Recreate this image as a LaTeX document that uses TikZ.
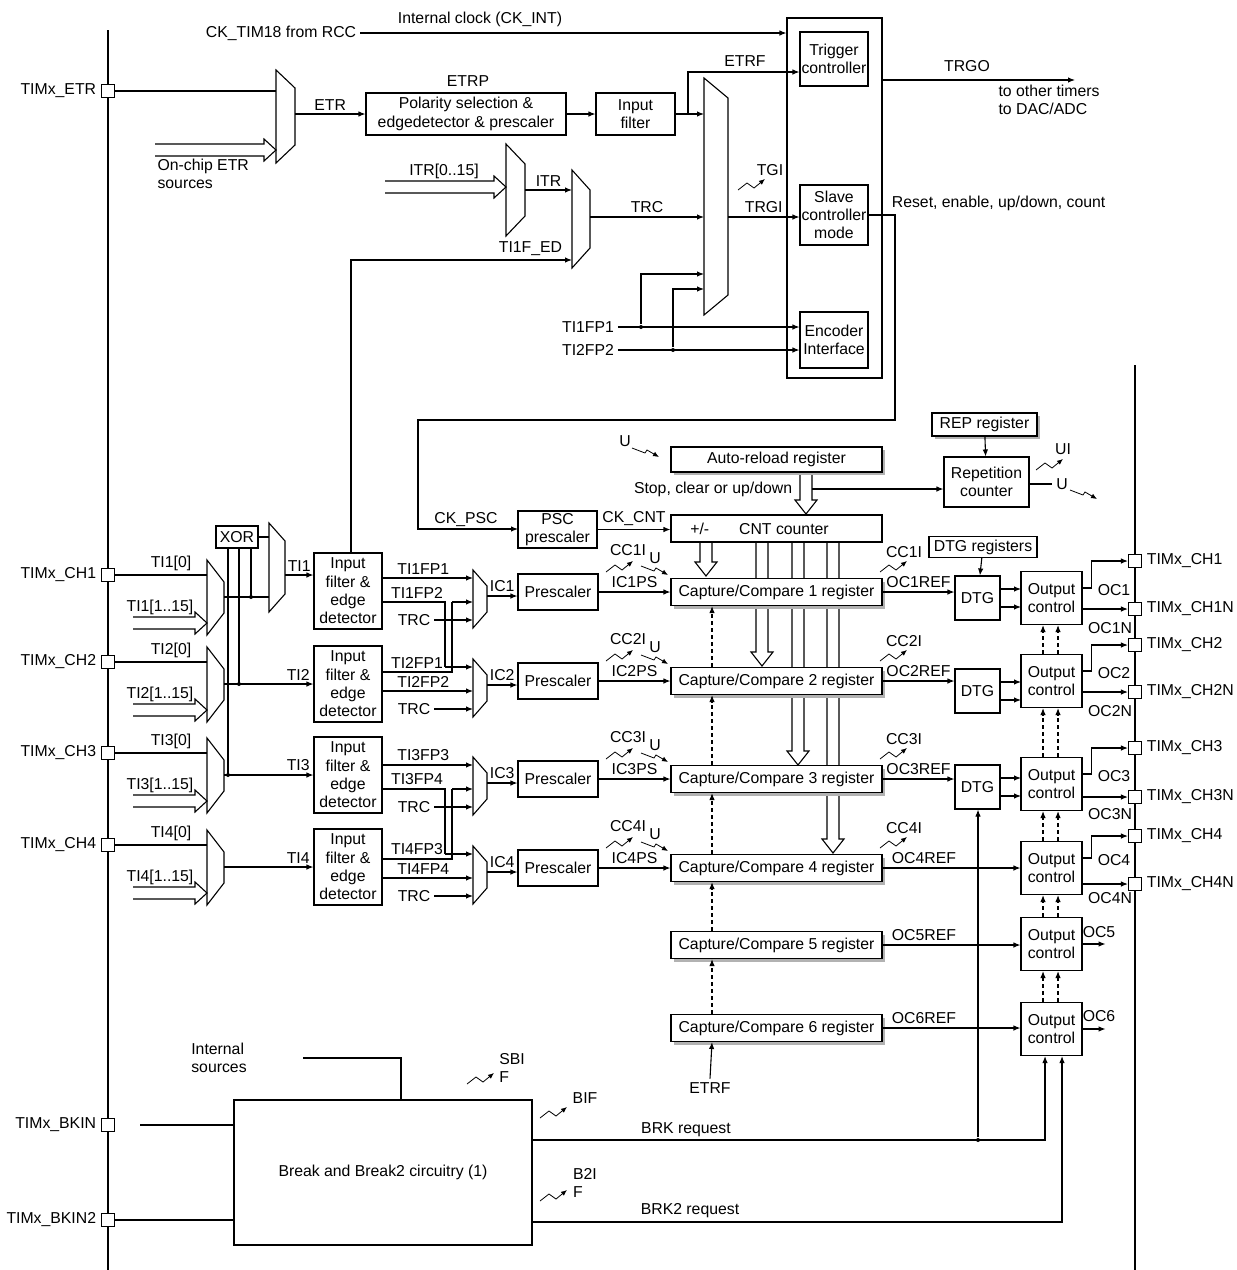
\documentclass[tikz,border=0pt]{standalone}
\usepackage{fontspec}
\setmainfont{Liberation Sans}
\usetikzlibrary{positioning,arrows.meta,shadows}

\tikzset{
  box/.style={draw,fill=white,align=center,inner sep=1pt,line width=1.1pt},
  sbox/.style={box,drop shadow={shadow xshift=3pt,shadow yshift=-3pt,fill=black!30,opacity=1}},
  pin/.style={draw,fill=white,minimum size=13pt,inner sep=0pt,line width=1.1pt},
  arr/.style={-{Latex[length=7pt,width=5.5pt]}},
  dsh/.style={dash pattern=on 4pt off 3pt},
  zig/.style={-{Latex[length=6pt,width=5pt]},line width=0.8pt},
  dot/.style={circle,fill,inner sep=0pt,minimum size=4pt},
}
\newcommand\muxs[5]{\draw[line width=1.1pt,fill=white] (#1,#2) -- (#1+#4,#2+#5) -- (#1+#4,#3-#5) -- (#1,#3) -- cycle;}
\newcommand\hollowdown[3]{\draw[fill=white,line width=1.1pt] (#1-6,#2) -- (#1-6,#3-14) -- (#1-11,#3-14) -- (#1,#3) -- (#1+11,#3-14) -- (#1+6,#3-14) -- (#1+6,#2);}
\newcommand\hollowright[3]{\draw[fill=white,line width=1.1pt] (#2,#1-6) -- (#3-12,#1-6) -- (#3-12,#1-11) -- (#3,#1) -- (#3-12,#1+11) -- (#3-12,#1+6) -- (#2,#1+6);}
\newcommand\zigup[2]{\draw[zig] (#1,#2) -- ++(9,-7) -- ++(7,5) -- ++(11,-9);}
\newcommand\zigdn[2]{\draw[zig] (#1,#2) -- ++(13,5) -- ++(2,-3) -- ++(12,7);}

\begin{document}
\begin{tikzpicture}[x=1pt,y=-1pt,line width=1.1pt,font=\fontsize{15.8}{18.3}\selectfont]
\useasboundingbox (0,0) rectangle (1237,1270);

% buses and pins
\draw (108,30) -- (108,1270);
\draw (1135,365) -- (1135,1270);
\foreach \n/\y/\t in {etr/91/TIMx\_ETR,ch1/575/TIMx\_CH1,ch2/662/TIMx\_CH2,ch3/753/TIMx\_CH3,
    ch4/845/TIMx\_CH4,bkin/1125/TIMx\_BKIN,bkintwo/1220/TIMx\_BKIN2}
  {\node[pin] (p\n) at (108,\y) {}; \node[left=1pt of p\n] (l\n) {\t};}
\foreach \n/\y/\t in {oa/561/TIMx\_CH1,oan/609/TIMx\_CH1N,ob/645/TIMx\_CH2,obn/692/TIMx\_CH2N,
    oc/748/TIMx\_CH3,ocn/797/TIMx\_CH3N,od/836/TIMx\_CH4,odn/884/TIMx\_CH4N}
  {\node[pin] (p\n) at (1135,\y) {}; \node[right=1pt of p\n] (l\n) {\t};}

% slave mode controller
\node[box,minimum width=95,minimum height=360] (ctl) at (834.5,198) {};
\node[box,minimum width=68,minimum height=54] (trig) at (834,59) {Trigger\\controller};
\node[box,minimum width=68,minimum height=60] (slave) at (834,215) {Slave\\controller\\mode};
\node[box,minimum width=68,minimum height=56] (enc) at (834,340) {Encoder\\Interface};
\node[anchor=east] (ckrcc) at (360,33) {CK\_TIM18 from RCC};
\draw[arr] (ckrcc.east) -- (ctl.west |- ckrcc.east);
\node (ckint) at (480,19) {Internal clock (CK\_INT)};
\draw[arr] (ctl.east |- 0,80) -- (1075,80);
\node (trgo) at (967,66) {TRGO};
\node[anchor=north west,align=left,inner sep=0pt] (toth) at (998,84) {to other timers\\to DAC/ADC};

% ETR path
\muxs{276}{70}{163}{19}{18}
\draw (petr.east) -- (276,91);
\hollowright{150}{155}{276}
\node[anchor=north west,align=left,inner sep=0pt] (onchip) at (157,158) {On-chip ETR\\sources};
\node[box,minimum width=200,minimum height=42] (pol) at (466,114) {Polarity selection \&\\edgedetector \& prescaler};
\draw[arr] (295,114) -- (pol.west) node[midway,above] (etrl) {ETR};
\node (etrp) at (468,81) {ETRP};
\node[box,minimum width=79,minimum height=42] (infl) at (635.5,114) {Input\\filter};
\draw[arr] (pol) -- (infl);
\muxs{704}{78}{315}{24}{20}
\draw[arr] (infl.east) -- (704,114);
\draw[arr] (688,114) |- (trig.west |- 0,72);
\node (etrf) at (745,61) {ETRF};

% trigger selection
\muxs{506}{144}{236}{19}{20}
\hollowright{187}{385}{506}
\node (itrin) at (444,171) {ITR[0..15]};
\draw[arr] (525,190) -- (572,190) node[midway,above] (itrl) {ITR};
\muxs{572}{170}{268}{18}{20}
\draw[arr] (590,217) -- (704,217) node[midway,above] (trcl) {TRC};
\draw[arr] (728,217) -- (slave.west |- 0,217) node[midway,above] (trgil) {TRGI};
\zigup{738}{190}
\node (tgi) at (770,170) {TGI};
\node (tfa) at (588,327) {TI1FP1};
\node (tfb) at (588,350) {TI2FP2};
\draw[arr] (tfa.east) -- (enc.west |- tfa.east);
\draw[arr] (tfb.east) -- (enc.west |- tfb.east);
\node[dot] (da) at (641,327) {};
\node[dot] (db) at (673,350) {};
\draw[arr] (da) |- (704,274);
\draw[arr] (db) |- (704,289);
\draw[arr] (slave.east |- 0,215) -- (895,215) -- (895,420) -- (418,420) -- (418,529) -- (518,529);
\node[anchor=west] (rst) at (888,203) {Reset, enable, up/down, count};
\node (ckpsc) at (466,520) {CK\_PSC};

% counter
\hollowdown{706}{542}{576}
\hollowdown{762}{542}{666}
\hollowdown{798}{542}{765}
\hollowdown{833}{542}{853}
\hollowdown{806}{472}{514}
\node[sbox,minimum width=211,minimum height=25] (autorel) at (776.5,459.5) {Auto-reload register};
\node (ul) at (625,441) {U};
\zigdn{632}{448}
\node[anchor=east] (stop) at (796,489) {Stop, clear or up/down};
\node[box,minimum width=85,minimum height=50] (rep) at (986.5,482) {Repetition\\counter};
\node[sbox,minimum width=105,minimum height=23] (repreg) at (984.5,424.5) {REP register};
\draw[arr] (812,489) -- (rep.west |- 0,489);
\draw[arr] (repreg) -- (rep);
\zigup{1036}{470}
\node (uil) at (1063,449) {UI};
\draw (rep.east |- 0,484) -- (1052,484);
\node (url) at (1062,484) {U};
\zigdn{1070}{490}
\node[box,minimum width=79,minimum height=37] (psc) at (557.5,529.5) {PSC\\prescaler};
\node[box,minimum width=211,minimum height=27] (cnt) at (776.5,528.5) {\hspace{2pt}+/-\hspace{30pt}CNT counter\hspace{36pt}};
\draw[arr] (psc.east) -- (cnt.west |- psc.east) node[midway,above] (ckcnt) {CK\_CNT};
\node[box,minimum width=108,minimum height=21] (dtgreg) at (983,547) {DTG registers};

% channels
\foreach \i/\c/\f in {1/592/591,2/681/684,3/779/775,4/868/867} {
  \node[box,minimum width=68,minimum height=76] (filt\i) at (348,\f) {Input\\filter \&\\edge\\detector};
  \muxs{473}{\c-22}{\c+36}{14}{16}
  \node[box,minimum width=80,minimum height=36] (psc\i) at (558,\c) {Prescaler};
  \node[sbox,minimum width=211,minimum height=27] (cc\i) at (776.5,\c) {Capture/Compare \i\ register};
  \draw[arr] (487,\c+4) -- (psc\i.west |- 0,\c+4) node[midway,above] (icl\i) {IC\i};
  \draw[arr] (psc\i) -- (cc\i) node[midway,above] (icps\i) {IC\i PS};
  \node (trc\i) at (414,\c+28) {TRC};
  \draw[arr] (trc\i.east) -- (473,\c+28);
  \node (cci\i) at (628,\c-42) {CC\i I};
  \zigup{606}{\c-20}
  \node (ui\i) at (655,\c-34) {U};
  \zigdn{641}{\c-26}
  \node (cco\i) at (904,\c-40) {CC\i I};
  \zigup{880}{\c-20}
}
\foreach \i/\c in {5/945,6/1028}
  \node[sbox,minimum width=211,minimum height=27] (cc\i) at (776.5,\c) {Capture/Compare \i\ register};
\foreach \a/\b in {2/1,3/2,4/3,5/4,6/5}
  \draw[arr,dsh] (cc\a.north -| 712,0) -- (cc\b.south -| 712,0);
\node (etrfb) at (710,1088) {ETRF};
\draw[arr] (etrfb.north) -- (cc6.south -| 712,0);

% filter outputs
\draw[arr] (filt1.east |- 0,578) -- (473,578) node[pos=0.45,above] (fa) {TI1FP1};
\draw (filt1.east |- 0,602) -- (445,602) -- (445,667);
\draw[arr] (445,667) -- (473,667);
\node[above] (fb) at (417,602) {TI1FP2};
\draw (filt2.east |- 0,672) -- (452,672) -- (452,602);
\draw[arr] (452,602) -- (473,602);
\node[above] (fc) at (417,672) {TI2FP1};
\draw[arr] (filt2.east |- 0,691) -- (473,691) node[pos=0.45,above] (fd) {TI2FP2};
\draw[arr] (filt3.east |- 0,765) -- (473,765) node[pos=0.45,above] (fe) {TI3FP3};
\draw (filt3.east |- 0,789) -- (445,789) -- (445,854);
\draw[arr] (445,854) -- (473,854);
\node[above] (ff) at (417,789) {TI3FP4};
\draw (filt4.east |- 0,859) -- (452,859) -- (452,789);
\draw[arr] (452,789) -- (473,789);
\node[above] (fg) at (417,859) {TI4FP3};
\draw[arr] (filt4.east |- 0,878) -- (473,878) node[pos=0.45,above] (fh) {TI4FP4};

% input selection
\node[box,minimum width=42,minimum height=22] (xor) at (237,537) {XOR};
\muxs{269}{523}{612}{16}{18}
\draw (xor.east) -- (269,537);
\foreach \i/\t in {1/560,2/647,3/738,4/830} {
  \muxs{207}{\t}{\t+75}{17}{22}
  \draw (pch\i.east) -- (207,\t+15);
  \node[above] (tz\i) at (171,\t+15) {TI\i[0]};
  \hollowright{\t+63}{133}{207}
  \node (tr\i) at (160,\t+47) {TI\i[1..15]};
}
\draw (251,548) -- (251,597);
\draw (239,548) -- (239,684);
\draw (228,548) -- (228,775);
\node[dot] (xa) at (251,597) {};
\node[dot] (xb) at (239,684) {};
\node[dot] (xc) at (228,775) {};
\draw (224,597) -- (269,597);
\draw[arr] (285,575) -- (filt1.west |- 0,575) node[midway,above] (tia) {TI1};
\draw[arr] (224,684) -- (filt2.west) node[pos=0.83,above] (tib) {TI2};
\draw[arr] (224,775) -- (filt3.west) node[pos=0.83,above] (tic) {TI3};
\draw[arr] (224,867) -- (filt4.west) node[pos=0.83,above] (tid) {TI4};
\draw[arr] (filt1.north -| 351,0) |- (572,260);
\node[anchor=south east] (tied) at (566,260) {TI1F\_ED};

% outputs
\foreach \i/\y in {1/598,2/691,3/787}
  \node[box,minimum width=45,minimum height=44] (dtg\i) at (977.5,\y) {DTG};
\draw[arr] (dtgreg) -- (dtg1);
\foreach \i/\y in {1/598,2/681,3/784,4/868,5/944,6/1029}
  \node[box,minimum width=61,minimum height=53,inner sep=0pt] (oc\i) at (1051.5,\y) {Output\\control};
\foreach \i/\c/\y in {1/592/598,2/681/691,3/779/787} {
  \draw[arr] (cc\i.east) -- (dtg\i.west |- cc\i.east) node[pos=0.5,above] (ref\i) {OC\i REF};
  \draw[arr] (1000,\y-9) -- (1021,\y-9);
  \draw[arr] (1000,\y+9) -- (1021,\y+9);
}
\draw[arr] (cc4.east) -- (oc4.west |- cc4.east) node[pos=0.3,above] (ref4) {OC4REF};
\draw[arr] (cc5.east) -- (oc5.west |- cc5.east) node[pos=0.3,above] (ref5) {OC5REF};
\draw[arr] (cc6.east) -- (oc6.west |- cc6.east) node[pos=0.3,above] (ref6) {OC6REF};
\foreach \i/\o/\n/\l in {1/a/598/1,2/b/681/2,3/c/784/3,4/d/868/4} {
  \draw[arr] (oc\i.east |- 0,\n-10) -- ++(9,0) |- (po\o.west);
  \draw[arr] (oc\i.east |- po\o n.west) -- (po\o n.west);
  \node (ocl\i) at (1114,\n-8) {OC\l};
  \node (ocn\i) at (1110,\n+30) {OC\l N};
}
\draw[arr] (oc5.east) -- ++(23,0);
\node (ocl5) at (1099,932) {OC5};
\draw[arr] (oc6.east) -- ++(23,0);
\node (ocl6) at (1099,1016) {OC6};
\foreach \a/\b in {2/1,3/2,4/3,5/4,6/5} {
  \draw[arr,dsh] (oc\a.north -| 1043,0) -- (oc\b.south -| 1043,0);
  \draw[arr,dsh] (oc\a.north -| 1058,0) -- (oc\b.south -| 1058,0);
}

% break
\node[box,minimum width=298,minimum height=145] (brk) at (383,1172.5) {Break and Break2 circuitry (1)};
\node[align=left] (isrc) at (219,1058) {Internal\\sources};
\draw (303,1058) -| (brk.north -| 401,0);
\draw (140,1125) -- (brk.west |- 0,1125);
\draw (pbkintwo.east) -- (brk.west |- pbkintwo.east);
\draw[arr] (brk.east |- 0,1140) -| (oc6.south -| 1045,0);
\node[dot] (bd) at (978,1140) {};
\draw[arr] (bd) -- (dtg3.south -| bd);
\draw[arr] (brk.east |- 0,1222) -| (oc6.south -| 1062,0);
\node (brkr) at (686,1130) {BRK request};
\node (brkrb) at (690,1211) {BRK2 request};
\zigup{467}{1084}
\node[align=left] (sbif) at (512,1068) {SBI\\F};
\zigup{540}{1118}
\node (bif) at (585,1098) {BIF};
\zigup{540}{1201}
\node[align=left] (btif) at (585,1183) {B2I\\F};
\end{tikzpicture}
\end{document}
